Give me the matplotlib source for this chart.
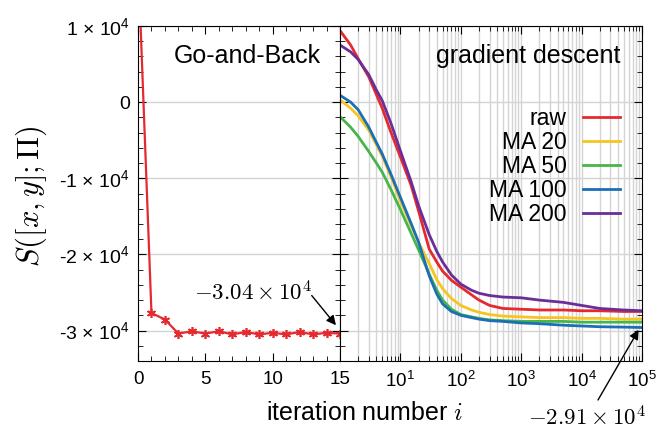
"""Go-and-Back vs gradient descent: S([x,y];Pi) per iteration."""
import numpy as np
import matplotlib
matplotlib.use("Agg")
import matplotlib.pyplot as plt
from matplotlib.ticker import FixedLocator, MultipleLocator, LogLocator, NullFormatter

plt.rcParams["font.family"] = ["Liberation Sans", "DejaVu Sans"]
plt.rcParams["mathtext.fontset"] = "custom"
plt.rcParams["mathtext.rm"] = "Liberation Sans"
plt.rcParams["mathtext.it"] = "Liberation Sans:italic"

# --- Go-and-Back (left) ---
gab_iter = np.arange(16)
gab_S = [1.9e4, -2.77e4, -2.855e4, -3.04e4, -3.01e4, -3.04e4, -3.01e4, -3.05e4,
         -3.02e4, -3.05e4, -3.03e4, -3.05e4, -3.02e4, -3.05e4, -3.03e4, -3.04e4]

# --- gradient descent (right), values in units of 1e4 ---
gd_iter = [1, 1.5, 2, 3, 4, 5, 7, 10, 15, 20, 30, 40, 50, 70, 100, 150, 200, 300, 500,
           1000, 2000, 5000, 10000, 20000, 50000, 100000]
gd_raw = [0.94, 0.75, 0.57, 0.33, 0.10, -0.08, -0.40, -0.72, -1.09, -1.43, -1.93, -2.10, -2.22, -2.34,
          -2.43, -2.53, -2.60, -2.67, -2.71, -2.72, -2.73, -2.73, -2.74, -2.74, -2.75, -2.75]
gd_ma20 = [0.03, -0.08, -0.18, -0.37, -0.56, -0.71, -0.98, -1.30, -1.62, -1.84, -2.12, -2.33, -2.45, -2.58,
           -2.67, -2.73, -2.76, -2.79, -2.81, -2.82, -2.83, -2.83, -2.84, -2.84, -2.85, -2.85]
gd_ma50 = [-0.19, -0.33, -0.45, -0.65, -0.80, -0.92, -1.15, -1.41, -1.72, -1.94, -2.26, -2.47, -2.60, -2.72,
           -2.79, -2.82, -2.84, -2.86, -2.87, -2.88, -2.88, -2.88, -2.89, -2.89, -2.89, -2.89]
gd_ma100 = [0.09, 0.0, -0.10, -0.33, -0.53, -0.68, -0.95, -1.25, -1.59, -1.84, -2.28, -2.52, -2.65, -2.75,
            -2.80, -2.83, -2.85, -2.87, -2.88, -2.90, -2.91, -2.93, -2.94, -2.95, -2.955, -2.96]
gd_ma200 = [0.75, 0.66, 0.56, 0.36, 0.16, 0.02, -0.28, -0.64, -1.04, -1.36, -1.74, -1.96, -2.10, -2.27,
            -2.39, -2.47, -2.51, -2.54, -2.56, -2.57, -2.60, -2.63, -2.67, -2.71, -2.73, -2.74]
series = [("raw", gd_raw, "#e52a2f"), ("MA 20", gd_ma20, "#f6c521"),
          ("MA 50", gd_ma50, "#47b649"), ("MA 100", gd_ma100, "#1b6fb6"),
          ("MA 200", gd_ma200, "#6b2e98")]

ytick_vals = [1e4, 0, -1e4, -2e4, -3e4]
ytick_labels = ["1 × 10$^{4}$", "0", "-1 × 10$^{4}$", "-2 × 10$^{4}$", "-3 × 10$^{4}$"]
xtick_left = [0, 5, 10, 15]
xtick_right = [1e1, 1e2, 1e3, 1e4, 1e5]
xtick_right_labels = [r"$10^1$", r"$10^2$", r"$10^3$", r"$10^4$", r"$10^5$"]

fig = plt.figure(figsize=(6.56, 4.38), dpi=100)
a1 = fig.add_axes([138 / 656, 77 / 438, 202 / 656, 335 / 438])
a2 = fig.add_axes([340 / 656, 77 / 438, 302 / 656, 335 / 438])
a2.set_xscale("log")
grid_kw = dict(color="#d4d4d4", lw=1.0)

for ax in (a1, a2):
    ax.set_ylim(-3.4e4, 1e4)
    ax.yaxis.set_major_locator(FixedLocator(ytick_vals))
    ax.yaxis.set_minor_locator(MultipleLocator(2000))
    ax.tick_params(which="both", direction="in", top=True, right=True, left=True, bottom=True,
                   labelsize=13.5, pad=7)
    ax.tick_params(which="major", length=6)
    ax.tick_params(which="minor", length=3.5)
    ax.grid(True, axis="y", which="major", **grid_kw)
    ax.set_axisbelow(True)

# left panel
a1.plot(gab_iter, gab_S, color="#e52a2f", lw=1.6, marker=(6, 2, 0), ms=6.5, mew=1.2)
a1.set_xlim(0, 15)
a1.set_xticks(xtick_left)
a1.xaxis.set_minor_locator(MultipleLocator(1))
a1.set_yticklabels(ytick_labels)
a1.tick_params(axis="y", labelsize=14, pad=6)
a1.text(0.54, 0.91, "Go-and-Back", transform=a1.transAxes, ha="center", va="center", fontsize=18)
a1.text(12.9, -2.51e4, r"$-3.04\times10^4$", ha="right", va="center", fontsize=16.5, math_fontfamily="cm")
a1.annotate("", xy=(14.7, -2.93e4), xytext=(12.9, -2.54e4),
            arrowprops=dict(arrowstyle="-|>", color="k", lw=1.0, mutation_scale=14, shrinkA=0, shrinkB=0))

# right panel
for name, vals, c in series:
    a2.plot(gd_iter, np.array(vals) * 1e4, color=c, lw=2.0, label=name)
a2.set_xlim(1, 1e5)
a2.xaxis.set_major_locator(FixedLocator(xtick_right))
a2.xaxis.set_minor_locator(LogLocator(base=10, subs=np.arange(2, 10), numticks=50))
a2.xaxis.set_minor_formatter(NullFormatter())
a2.set_xticklabels(xtick_right_labels)
a2.set_yticklabels([])
a2.grid(True, axis="x", which="both", **grid_kw)
a2.text(0.927, 0.91, "gradient descent", transform=a2.transAxes, ha="right", va="center", fontsize=18)
a2.legend(loc="upper right", bbox_to_anchor=(0.927, 0.758), frameon=False, markerfirst=False,
          fontsize=16.5, handlelength=1.6, handletextpad=0.72, labelspacing=0.04,
          borderpad=0, borderaxespad=0)

fig.text(587 / 656, 1 - 418 / 438, r"$-2.91\times10^4$", ha="center", va="center", fontsize=16.5,
         math_fontfamily="cm")
a2.annotate("", xy=(8.8e4, -2.99e4), xycoords="data", xytext=(598, 38), textcoords="figure pixels",
            arrowprops=dict(arrowstyle="-|>", color="k", lw=1.0, mutation_scale=14, shrinkA=0, shrinkB=0),
            annotation_clip=False)

fig.text(365 / 656, 1 - 413 / 438, r"iteration number $i$", ha="center", va="center", fontsize=18,
         math_fontfamily="cm")
fig.text(31 / 656, 1 - 196 / 438, r"$S([x,y];\mathbf{\Pi})$", rotation=90, ha="center", va="center",
         fontsize=22, math_fontfamily="cm")

fig.savefig("out.png", dpi=100)
